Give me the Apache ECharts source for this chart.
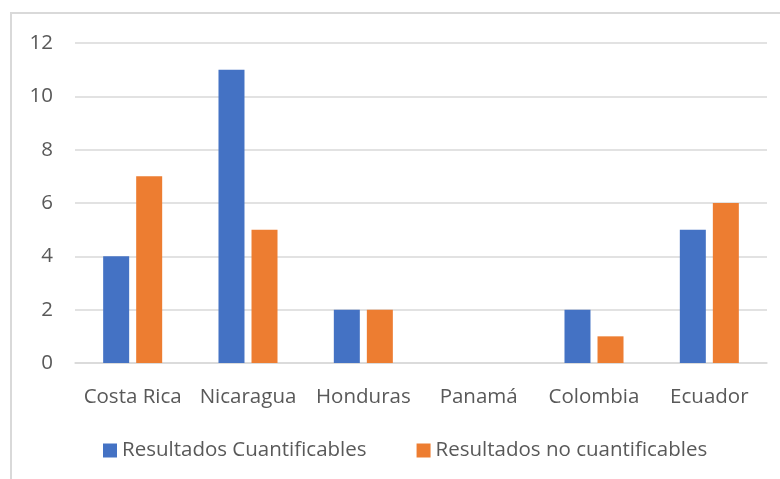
<!DOCTYPE html>
<html>
<head>
<meta charset="utf-8">
<script src="https://cdn.jsdelivr.net/npm/echarts@6/dist/echarts.min.js"></script>
<style>
  html, body { margin: 0; padding: 0; background: #ffffff; }
  #chart { width: 780px; height: 479px; }
</style>
</head>
<body>
<div id="chart"></div>
<script>
// Countries along the category axis
const categories = ['Costa Rica', 'Nicaragua', 'Honduras', 'Panamá', 'Colombia', 'Ecuador'];
// Counts per country for each result type
const cuantificables = [4, 11, 2, 0, 2, 5];
const noCuantificables = [7, 5, 2, 0, 1, 6];
const seriesNames = ['Resultados Cuantificables', 'Resultados no cuantificables'];

const FONT = '"Open Sans", "Noto Sans", sans-serif';
const TEXT = '#595959';
const SIZE = 20.5;

const chart = echarts.init(document.getElementById('chart'), null, { renderer: 'canvas' });
chart.setOption({
  backgroundColor: '#ffffff',
  animation: false,
  graphic: [{
    type: 'rect',
    shape: { x: 11, y: 13, width: 820, height: 520 },
    style: { fill: 'none', stroke: '#d9d9d9', lineWidth: 2 },
    silent: true,
    z: -1
  }],
  grid: { left: 75, right: 13, top: 43, bottom: 116, containLabel: false },
  legend: {
    left: 98,
    top: 435,
    itemWidth: 14,
    itemHeight: 14,
    itemGap: 50,
    icon: 'rect',
    textStyle: { color: TEXT, fontSize: SIZE, fontFamily: FONT },
    data: seriesNames
  },
  xAxis: {
    type: 'category',
    data: categories,
    axisLine: { lineStyle: { color: '#d9d9d9', width: 1.5 } },
    axisTick: { show: false },
    axisLabel: {
      color: TEXT, fontSize: SIZE, fontFamily: FONT, margin: 24,
      interval: 0, hideOverlap: false
    }
  },
  yAxis: {
    type: 'value',
    min: 0,
    max: 12,
    interval: 2,
    axisLine: { show: false },
    axisTick: { show: false },
    splitLine: { lineStyle: { color: '#d9d9d9', width: 1.5 } },
    axisLabel: { color: TEXT, fontSize: SIZE, fontFamily: FONT, margin: 22 }
  },
  series: [
    {
      name: seriesNames[0],
      type: 'bar',
      data: cuantificables,
      barWidth: 26,
      barGap: '27%',
      itemStyle: { color: '#4472c4' }
    },
    {
      name: seriesNames[1],
      type: 'bar',
      data: noCuantificables,
      barWidth: 26,
      barGap: '27%',
      itemStyle: { color: '#ed7d31' }
    }
  ]
});
</script>
</body>
</html>
